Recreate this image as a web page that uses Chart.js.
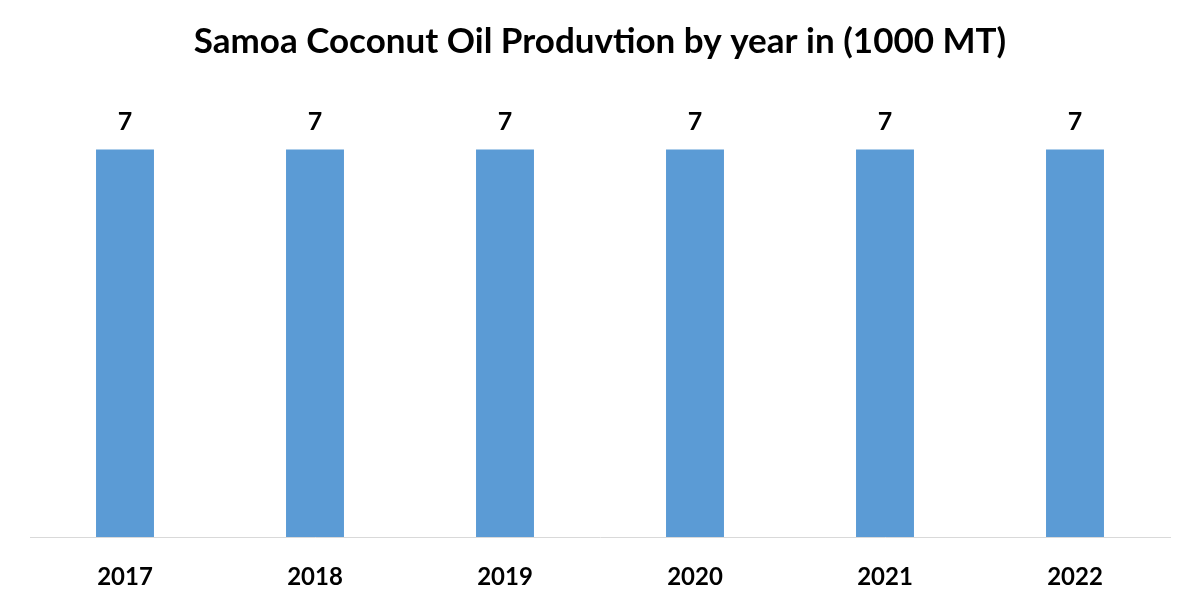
<!DOCTYPE html>
<html lang="en">
<head>
    <meta charset="UTF-8">
    <title>Samoa Coconut Oil Production</title>
    <script src="https://cdn.jsdelivr.net/npm/chart.js"></script>
    <style>
        body { margin: 0; background: #fff; }
        #wrap { width: 1200px; height: 600px; }
    </style>
</head>
<body>
    <div id="wrap"><canvas id="chart" width="1200" height="600"></canvas></div>

    <script>
        const years = ["2017", "2018", "2019", "2020", "2021", "2022"];
        const production = [7, 7, 7, 7, 7, 7];

        // draws the value above each bar
        const valueLabels = {
            id: "valueLabels",
            afterDatasetsDraw(chart) {
                const ctx = chart.ctx;
                const meta = chart.getDatasetMeta(0);
                ctx.save();
                ctx.fillStyle = "#000";
                ctx.font = "bold 25px Lato, 'Liberation Sans', sans-serif";
                ctx.textAlign = "center";
                ctx.textBaseline = "middle";
                meta.data.forEach((bar, i) => {
                    ctx.fillText(String(production[i]), bar.x, bar.y - 27);
                });
                ctx.restore();
            }
        };

        new Chart(document.getElementById("chart"), {
            type: "bar",
            data: {
                labels: years,
                datasets: [{
                    data: production,
                    backgroundColor: "#5B9BD5",
                    borderWidth: 0,
                    barPercentage: 0.305,
                    categoryPercentage: 1
                }]
            },
            options: {
                responsive: false,
                animation: false,
                layout: { padding: { left: 30, right: 30, top: 0, bottom: 0 } },
                plugins: {
                    legend: { display: false },
                    tooltip: { enabled: false },
                    title: {
                        display: true,
                        text: "Samoa Coconut Oil Produvtion by year in (1000 MT)",
                        color: "#000",
                        font: { family: "Lato, 'Liberation Sans', sans-serif", size: 35, weight: "bold" },
                        padding: { top: 21, bottom: 31 }
                    }
                },
                scales: {
                    x: {
                        grid: { display: false },
                        border: { display: true, color: "#D9D9D9", width: 1 },
                        ticks: {
                            color: "#000",
                            padding: 18,
                            font: { family: "Lato, 'Liberation Sans', sans-serif", size: 24, weight: "bold" }
                        },
                        afterFit(scale) { scale.height = 63; }
                    },
                    y: {
                        display: false,
                        min: 0,
                        max: 8
                    }
                }
            },
            plugins: [valueLabels]
        });
    </script>
</body>
</html>
